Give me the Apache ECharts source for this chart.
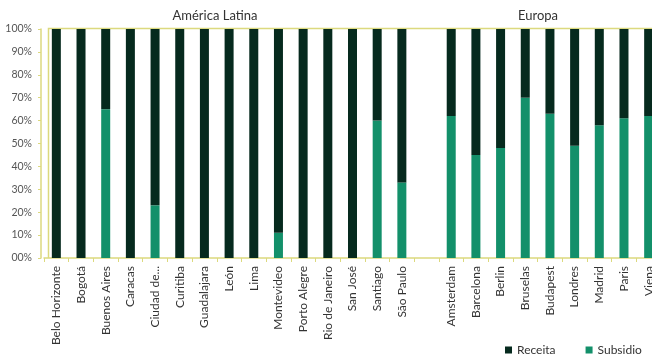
<!DOCTYPE html>
<html>
<head>
<meta charset="utf-8">
<script src="https://cdn.jsdelivr.net/npm/echarts@6/dist/echarts.min.js"></script>
<style>html,body{margin:0;padding:0;background:#fff}#c{width:652px;height:356px}</style>
</head>
<body>
<div id="c"></div>
<script>
var categories = ['Belo Horizonte','Bogotá','Buenos Aires','Caracas','Ciudad de...','Curitiba','Guadalajara','León','Lima','Montevideo','Porto Alegre','Rio de Janeiro','San José','Santiago','São Paulo','','Amsterdam','Barcelona','Berlin','Bruselas','Budapest','Londres','Madrid','Paris','Viena'];
var subsidio = [0,0,65,0,23,0,0,0,0,11,0,0,0,60,33,null,62,45,48,70,63,49,58,61,62];
var receita  = [100,100,35,100,77,100,100,100,100,89,100,100,100,40,67,null,38,55,52,30,37,51,42,39,38];
var yTickLabels = ['00%','10%','20%','30%','40%','50%','60%','70%','80%','90%','100%'];
var groupTitles = ['América Latina','Europa'];
var seriesNames = ['Receita','Subsidio'];

var AX = '#dcd97e';
var FONT = 'Lato';
var chart = echarts.init(document.getElementById('c'), null, {renderer:'canvas'});
chart.setOption({
  animation:false,
  backgroundColor:'#fff',
  textStyle:{fontFamily:FONT},
  grid:{left:44, top:29, width:617, height:229, containLabel:false, outerBoundsMode:'none'},
  graphic:[
    {type:'polyline', silent:true, shape:{points:[[48.5,258],[48.5,28.5],[652,28.5]]}, style:{stroke:AX, lineWidth:1.5, fill:null}},
    {type:'text', x:215, y:9, style:{text:groupTitles[0], fill:'#333', font:'13px '+FONT, textAlign:'center'}},
    {type:'text', x:538, y:9, style:{text:groupTitles[1], fill:'#333', font:'13px '+FONT, textAlign:'center'}}
  ],
  legend:{
    data:seriesNames, left:500, top:339, itemWidth:7, itemHeight:7, itemGap:30,
    icon:'rect', textStyle:{fontSize:12, color:'#333', fontFamily:FONT, padding:[0,0,0,0]}
  },
  xAxis:{
    type:'category', data:categories,
    axisLine:{show:true, lineStyle:{color:AX, width:1.5}},
    axisTick:{show:true, alignWithLabel:false, length:4, lineStyle:{color:AX}},
    axisLabel:{rotate:90, interval:0, fontSize:12, color:'#333', margin:8, fontFamily:FONT}
  },
  yAxis:{
    type:'value', min:0, max:100, interval:10, offset:3,
    axisLine:{show:true, lineStyle:{color:AX, width:1.5}},
    axisTick:{show:true, length:3, lineStyle:{color:AX}},
    splitLine:{show:false},
    axisLabel:{fontSize:10.5, color:'#555', margin:9, fontFamily:FONT,
      formatter:function(v){return yTickLabels[Math.round(v/10)];}}
  },
  series:[
    {name:'Subsidio', type:'bar', stack:'t', data:subsidio, barWidth:9, itemStyle:{color:'#13906a'}},
    {name:'Receita', type:'bar', stack:'t', data:receita, barWidth:9, itemStyle:{color:'#062a1e'}}
  ]
});
</script>
</body>
</html>
